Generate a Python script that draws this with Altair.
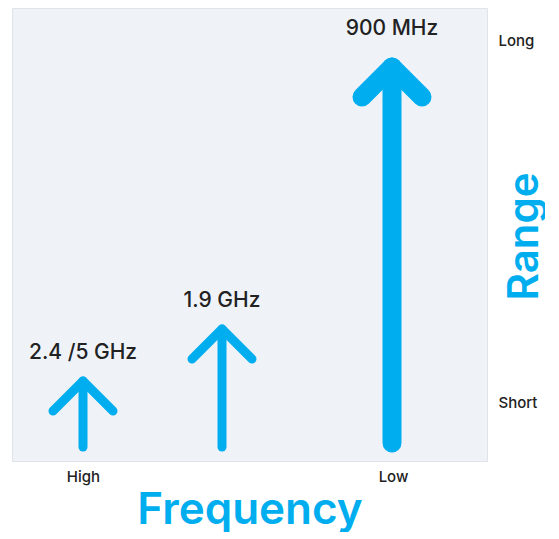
import altair as alt
import pandas as pd

# ---- data ----
bands = ["2.4 /5 GHz", "1.9 GHz", "900 MHz"]
freq_pos = [71, 210, 380]        # position along the frequency axis
range_tip = [80, 132, 394]       # height reached by each arrow (range)
range_base = [14, 14, 18]        # where each arrow starts
arrow_weight = [9, 9, 19]        # line weight of each arrow

x_ticks = [71, 381]
x_tick_labels = ["High", "Low"]
y_ticks = [59, 421]
y_tick_labels = ["Short", "Long"]

# ---- styling ----
BLUE = "#00aeef"
TEXT = "#222222"
FONT = "Inter"
HEAD = 30            # arrow head wing length (data units)
X_DOMAIN = [0, 475]
Y_DOMAIN = [0, 453]

shafts = pd.DataFrame({
    "band": bands, "x": freq_pos, "base": range_base,
    "tip": range_tip, "w": arrow_weight,
})
shafts["label_y"] = shafts["tip"] + 22 + (shafts["w"] - 9)

head_rows = []
for b, x, t, w in zip(bands, freq_pos, range_tip, arrow_weight):
    head_rows += [
        {"band": b, "o": 0, "x": x - HEAD, "y": t - HEAD, "w": w},
        {"band": b, "o": 1, "x": x, "y": t, "w": w},
        {"band": b, "o": 2, "x": x + HEAD, "y": t - HEAD, "w": w},
    ]
heads = pd.DataFrame(head_rows)

x_expr = " : ".join(
    f"datum.value == {v} ? '{l}'" for v, l in zip(x_ticks, x_tick_labels)
) + " : ''"
y_expr = " : ".join(
    f"datum.value == {v} ? '{l}'" for v, l in zip(y_ticks, y_tick_labels)
) + " : ''"

x_axis = alt.Axis(
    values=x_ticks, labelExpr=x_expr, title="Frequency", grid=False,
    ticks=False, domain=False, labelFont=FONT, labelFontSize=15,
    labelFontWeight=500, labelColor=TEXT, labelPadding=8,
    titleFont=FONT, titleFontSize=44, titleFontWeight=600, titleColor=BLUE,
    titleBaseline="alphabetic", titleY=62,
)
y_axis = alt.Axis(
    orient="right", values=y_ticks, labelExpr=y_expr, title="Range",
    grid=False, ticks=False, domain=False, labelFont=FONT, labelFontSize=15,
    labelFontWeight=500, labelColor=TEXT, labelPadding=11, labelAlign="left",
    labelBaseline="middle",
    titleFont=FONT, titleFontSize=42, titleFontWeight=600, titleColor=BLUE,
    titleAngle=270, titleBaseline="alphabetic", titleAlign="center",
    titleX=50, titleY=228,
)
xs = alt.Scale(domain=X_DOMAIN, nice=False, zero=False)
ys = alt.Scale(domain=Y_DOMAIN, nice=False, zero=False)

shaft_layer = alt.Chart(shafts).mark_rule(color=BLUE, strokeCap="round").encode(
    x=alt.X("x:Q", scale=xs, axis=x_axis),
    y=alt.Y("base:Q", scale=ys, axis=y_axis),
    y2="tip:Q",
    strokeWidth=alt.StrokeWidth("w:Q", scale=None),
)

head_layer = alt.Chart(heads).mark_line(
    color=BLUE, strokeCap="round", strokeJoin="round"
).encode(
    x=alt.X("x:Q", scale=xs, axis=x_axis),
    y=alt.Y("y:Q", scale=ys, axis=y_axis),
    detail="band:N",
    order="o:Q",
    strokeWidth=alt.StrokeWidth("w:Q", scale=None),
)

label_layer = alt.Chart(shafts).mark_text(
    font=FONT, fontSize=21, fontWeight=500, color=TEXT,
    align="center", baseline="alphabetic",
).encode(
    x=alt.X("x:Q", scale=xs, axis=x_axis),
    y=alt.Y("label_y:Q", scale=ys, axis=y_axis),
    text="band:N",
)

chart = alt.layer(shaft_layer, head_layer, label_layer).properties(
    width=475, height=453,
    padding={"left": 4, "top": 0, "right": 0, "bottom": 0},
).configure_view(fill="#eff3f8", stroke="#dfe4ea")

chart.save("out.html", embed_options={"renderer": "svg", "actions": False})
